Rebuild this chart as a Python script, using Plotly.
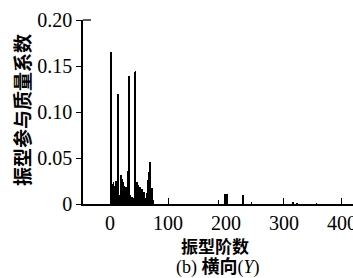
import plotly.graph_objects as go

# mode numbers and their participating mass coefficients (transverse Y)
modes = [1, 2, 4, 6, 8, 10, 12, 14, 17, 19, 21, 23, 25, 27, 29, 31, 32, 35, 38, 41, 43, 44,
         47, 49, 52, 55, 58, 61, 64, 66, 68, 69, 72, 75, 187, 198, 201, 230, 244, 316, 322, 356]
coef = [0.138, 0.165, 0.022, 0.024, 0.020, 0.025, 0.016, 0.120, 0.010, 0.031, 0.027, 0.024, 0.020,
        0.018, 0.014, 0.036, 0.139, 0.010, 0.008, 0.006, 0.143, 0.145, 0.024, 0.021, 0.018, 0.016,
        0.013, 0.006, 0.012, 0.026, 0.035, 0.046, 0.017, 0.004, 0.004, 0.011, 0.011, 0.010, 0.002,
        0.002, 0.001, 0.001]

x_ticks = [0, 100, 200, 300, 400]
y_ticks = [0, 0.05, 0.10, 0.15, 0.20]
y_ticktext = ["0", "0.05", "0.10", "0.15", "0.20"]

fig = go.Figure(go.Bar(x=modes, y=coef, width=1.6, marker=dict(color="black", line=dict(width=0))))

tickfont = dict(family="Liberation Serif", size=20, color="black")
fig.update_layout(
    width=353, height=278,
    margin=dict(l=83, r=0, t=20, b=74),
    plot_bgcolor="white", paper_bgcolor="white",
    showlegend=False,
    bargap=0,
)
fig.update_xaxes(
    range=[-46.6, 419], tickvals=x_ticks, ticks="inside", ticklen=6, tickwidth=1.3,
    tickcolor="black", showline=True, linecolor="black", linewidth=1.5,
    showgrid=False, zeroline=False, tickfont=tickfont, automargin=False,
    ticklabeloverflow="allow",
)
fig.update_yaxes(
    range=[0, 0.20], tickvals=y_ticks, ticktext=y_ticktext, ticks="outside", ticklen=5,
    tickwidth=1.3, tickcolor="black", showline=True, linecolor="black", linewidth=1.5,
    showgrid=False, zeroline=False, tickfont=tickfont, automargin=False,
)
# small inward cap at the top of the y axis
fig.add_shape(type="line", xref="paper", yref="paper", x0=0, x1=8 / 270, y0=1, y1=1,
              line=dict(color="black", width=1.3))

cjk = "Noto Sans CJK SC"
fig.add_annotation(text="<b>振型阶数</b>", xref="paper", yref="paper", x=(215 - 83) / 270,
                   y=-(246 - 204) / 184, showarrow=False, xanchor="center", yanchor="middle",
                   font=dict(family=cjk, size=17, color="black"))
fig.add_annotation(text="(b) <b>横向</b>(<i>Y</i>)", xref="paper", yref="paper", x=(218 - 83) / 270,
                   y=-(267 - 204) / 184, showarrow=False, xanchor="center", yanchor="middle",
                   font=dict(family="Liberation Serif, " + cjk, size=18, color="black"))
fig.add_annotation(text="<b>振型参与质量系数</b>", xref="paper", yref="paper", x=-(83 - 22) / 270,
                   y=(204 - 110) / 184, showarrow=False, xanchor="center", yanchor="middle",
                   textangle=-90, font=dict(family=cjk, size=19, color="black"))

fig.write_html("out.html")
